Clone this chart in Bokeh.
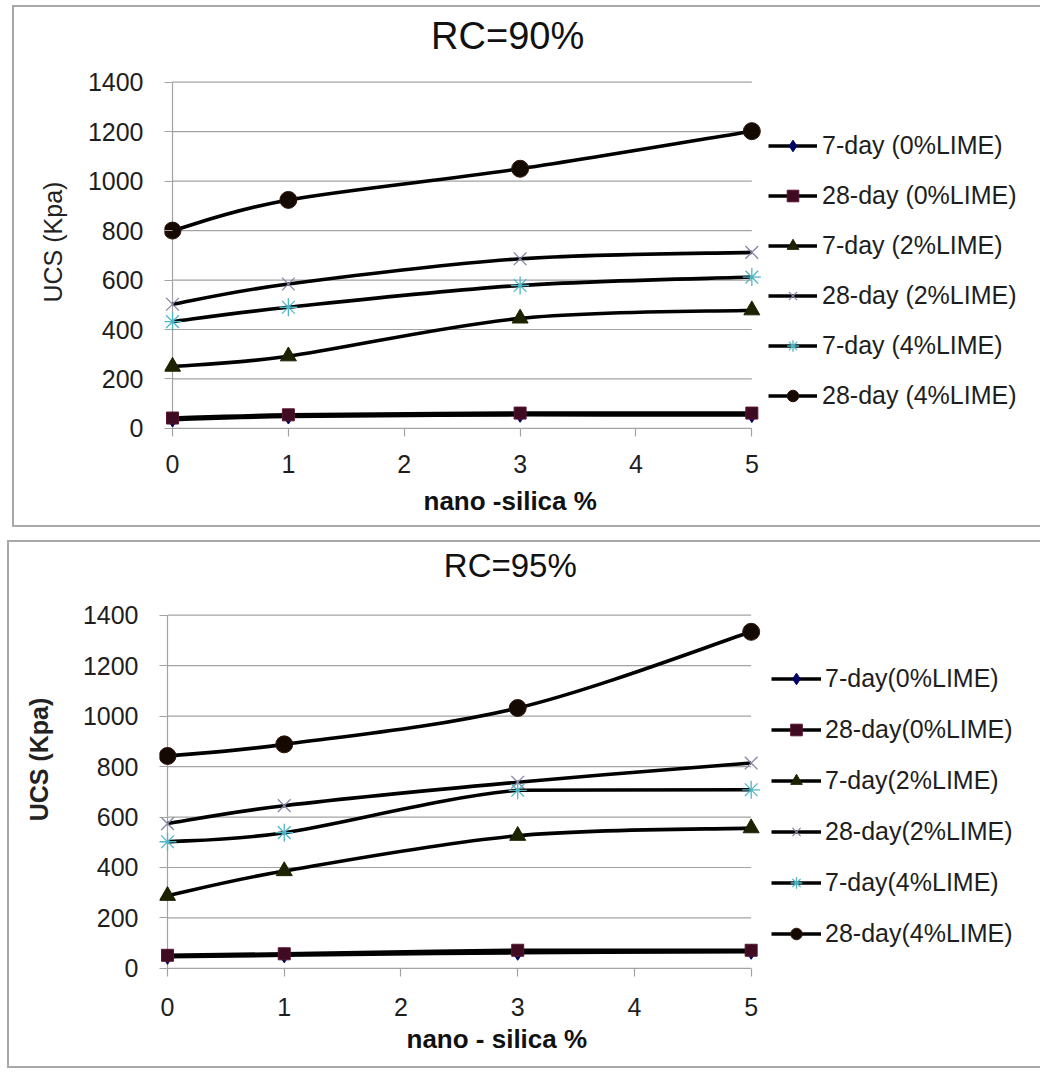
from bokeh.plotting import figure
from bokeh.models import (Range1d, FixedTicker, Legend, LegendItem, Label, Title,
                          ColumnDataSource)
from bokeh.layouts import column
from bokeh.embed import file_html
from bokeh.resources import INLINE

# ---------------- data ----------------
nano_silica = [0, 1, 3, 5]
x_ticks = [0, 1, 2, 3, 4, 5]
y_ticks = [0, 200, 400, 600, 800, 1000, 1200, 1400]

rc90_title = "RC=90%"
rc90_labels = ["7-day (0%LIME)", "28-day (0%LIME)", "7-day (2%LIME)",
               "28-day (2%LIME)", "7-day (4%LIME)", "28-day (4%LIME)"]
rc90_7d_0 = [36, 48, 55, 54]
rc90_28d_0 = [42, 55, 62, 62]
rc90_7d_2 = [250, 292, 445, 478]
rc90_28d_2 = [502, 584, 686, 712]
rc90_7d_4 = [432, 490, 578, 612]
rc90_28d_4 = [800, 924, 1050, 1202]

rc95_title = "RC=95%"
rc95_labels = ["7-day(0%LIME)", "28-day(0%LIME)", "7-day(2%LIME)",
               "28-day(2%LIME)", "7-day(4%LIME)", "28-day(4%LIME)"]
rc95_7d_0 = [46, 52, 62, 66]
rc95_28d_0 = [52, 58, 72, 72]
rc95_7d_2 = [288, 386, 526, 556]
rc95_28d_2 = [574, 645, 738, 814]
rc95_7d_4 = [502, 538, 706, 708]
rc95_28d_4 = [842, 888, 1032, 1334]

x_label_90 = "nano -silica %"
x_label_95 = "nano - silica %"
y_label = "UCS (Kpa)"

# ---------------- styles ----------------
MARKERS = [
    dict(marker="diamond", size=15, fill_color="#000066", line_color="#000066"),
    dict(marker="square", size=12, fill_color="#3e0b20", line_color="#5a1434"),
    dict(marker="triangle", size=16, fill_color="#1c2300", line_color="#1c2300"),
    dict(marker="x", size=18, fill_color=None, line_color="#8585a8", line_width=1.3),
    dict(marker="asterisk", size=18, fill_color=None, line_color="#4fb6c6", line_width=1.3),
    dict(marker="circle", size=17, fill_color="#150a02", line_color="#2e1606"),
]
FONT = "Liberation Sans"
GRID = "#a3a3a3"
PAD = 8


def bezier_cols(xs, ys):
    n = len(xs)
    d = dict(x0=[], y0=[], x1=[], y1=[], cx0=[], cy0=[], cx1=[], cy1=[])
    for i in range(n - 1):
        xp, yp = (xs[i - 1], ys[i - 1]) if i > 0 else (xs[i], ys[i])
        xn, yn = (xs[i + 2], ys[i + 2]) if i + 2 < n else (xs[i + 1], ys[i + 1])
        lo, hi = min(ys[i], ys[i + 1]), max(ys[i], ys[i + 1])
        d["x0"].append(xs[i]); d["y0"].append(ys[i])
        d["x1"].append(xs[i + 1]); d["y1"].append(ys[i + 1])
        d["cx0"].append(xs[i] + (xs[i + 1] - xp) / 6.0)
        d["cy0"].append(min(hi, max(lo, ys[i] + (ys[i + 1] - yp) / 6.0)))
        d["cx1"].append(xs[i + 1] - (xn - xs[i]) / 6.0)
        d["cy1"].append(min(hi, max(lo, ys[i + 1] - (yn - ys[i]) / 6.0)))
    return d


def make_chart(title, labels, series, xlabel, g):
    cl, ct, cw, ch = g["cl"], g["ct"], g["cw"], g["ch"]
    x0p, x5p, y0p, ytp = g["x0p"], g["x5p"], g["y0p"], g["ytp"]
    # frame: left/bottom just outside the axes, top/right up to the canvas edge
    L, R, T, B = x0p - PAD, cl + cw, ct, y0p + PAD
    sx = (x5p - x0p) / 5.0
    sy = (y0p - ytp) / 1400.0
    p = figure(width=cw + 2, height=ch + 4, output_backend="svg", toolbar_location=None,
               x_range=Range1d(-(x0p - L) / sx, 5 + (R - x5p) / sx),
               y_range=Range1d(-(B - y0p) / sy, 1400 + (ytp - T) / sy),
               min_border_left=L - cl, min_border_right=0,
               min_border_top=0, min_border_bottom=ct + ch - B)
    p.margin = (g["mt"], 0, 0, g["ml"])
    p.styles = {"border-left": "2px solid #a8a8a8", "border-top": "2px solid #a8a8a8",
                "border-bottom": "2px solid #a8a8a8"}
    p.outline_line_color = None
    p.background_fill_color = "white"
    p.border_fill_color = "white"
    p.xgrid.visible = False
    p.ygrid.visible = False

    # horizontal gridlines from x=0 to x=5, and the value axis line at x=0
    n = len(y_ticks)
    p.segment(x0=[x_ticks[0]] * n, x1=[x_ticks[-1]] * n, y0=y_ticks, y1=y_ticks,
              line_color=GRID, line_width=1.2)
    p.segment(x0=[x_ticks[0]], x1=[x_ticks[0]], y0=[y_ticks[0]], y1=[y_ticks[-1]],
              line_color=GRID, line_width=1.2)

    for ax in (p.xaxis[0], p.yaxis[0]):
        ax.axis_line_color = None
        ax.major_tick_line_color = GRID
        ax.major_tick_line_width = 1.2
        ax.major_tick_in = PAD
        ax.major_tick_out = 0
        ax.minor_tick_line_color = None
        ax.major_label_text_font = FONT
        ax.major_label_text_font_size = "25px"
        ax.major_label_text_color = "#1e1e1e"
    p.xaxis.ticker = FixedTicker(ticks=x_ticks)
    p.yaxis.ticker = FixedTicker(ticks=y_ticks)
    p.xaxis.major_label_standoff = g["xls"]
    p.yaxis.major_label_standoff = g["yls"]

    # x-axis title
    p.add_layout(Title(text=xlabel, align="left", offset=g["xlx"] - L,
                       text_font=FONT, text_font_size="26px",
                       text_font_style="bold", text_color="#111111",
                       standoff=g["xst"]), "below")

    # y-axis title
    if g["ylmode"] == "title":
        p.add_layout(Title(text=y_label, align="left", offset=B - g["yly"],
                           text_font=FONT, text_font_size="25px",
                           text_font_style=g["ylstyle"], text_color="#222222",
                           standoff=g["yst"]), "left")
    else:
        p.yaxis.axis_label = y_label
        p.yaxis.axis_label_text_font = FONT
        p.yaxis.axis_label_text_font_size = "25px"
        p.yaxis.axis_label_text_font_style = g["ylstyle"]
        p.yaxis.axis_label_text_color = "#222222"
        p.yaxis.axis_label_standoff = g["yst"]

    items = []
    for lab, ys, mk in zip(labels, series, MARKERS):
        bz = p.bezier(source=ColumnDataSource(bezier_cols(nano_silica, ys)),
                      x0="x0", y0="y0", x1="x1", y1="y1",
                      cx0="cx0", cy0="cy0", cx1="cx1", cy1="cy1",
                      line_color="black", line_width=3.6)
        sc = p.scatter(x=nano_silica, y=ys, **mk)
        items.append(LegendItem(label=lab, renderers=[bz, sc]))

    leg = Legend(items=items, location=(g["lx"] - L, B - g["lbot"]),
                 border_line_color=None, background_fill_alpha=0,
                 padding=0, margin=0, spacing=g["lsp"] - 29,
                 glyph_width=g["gw"], glyph_height=29, label_height=29,
                 label_standoff=g["lst"], label_text_font=FONT,
                 label_text_font_size="25px", label_text_color="#1e1e1e")
    p.add_layout(leg)

    # chart title (placed in data space above the plot area)
    p.add_layout(Label(x=(g["tx"] - x0p) / sx, y=(y0p - g["ty"]) / sy, text=title,
                       text_align="left", text_baseline="middle",
                       text_font=FONT, text_font_size=g["tfs"], text_color="#111111"))
    return p


g90 = dict(ml=12, mt=5, cl=14, ct=7, cw=1026, ch=518,
           x0p=172, x5p=750, y0p=424, ytp=81, xls=18, yls=21,
           lx=768, lbot=406, lsp=50, gw=49, lst=5,
           tx=430, ty=35, tfs="38px",
           xlx=423, xst=17, ylmode="title", yly=298, ylstyle="normal", yst=36)
g95 = dict(ml=7, mt=13, cl=9, ct=542, cw=1031, ch=524,
           x0p=166, x5p=749, y0p=964, ytp=614, xls=21, yls=21,
           lx=770, lbot=944, lsp=51, gw=50, lst=4,
           tx=442, ty=565, tfs="33px",
           xlx=405, xst=7, ylmode="axis", yly=817, ylstyle="bold", yst=27)

p1 = make_chart(rc90_title, rc90_labels,
                [rc90_7d_0, rc90_28d_0, rc90_7d_2, rc90_28d_2, rc90_7d_4, rc90_28d_4],
                x_label_90, g90)
p2 = make_chart(rc95_title, rc95_labels,
                [rc95_7d_0, rc95_28d_0, rc95_7d_2, rc95_28d_2, rc95_7d_4, rc95_28d_4],
                x_label_95, g95)

layout = column(p1, p2, spacing=0)
open("out.html", "w").write(file_html(layout, INLINE))
